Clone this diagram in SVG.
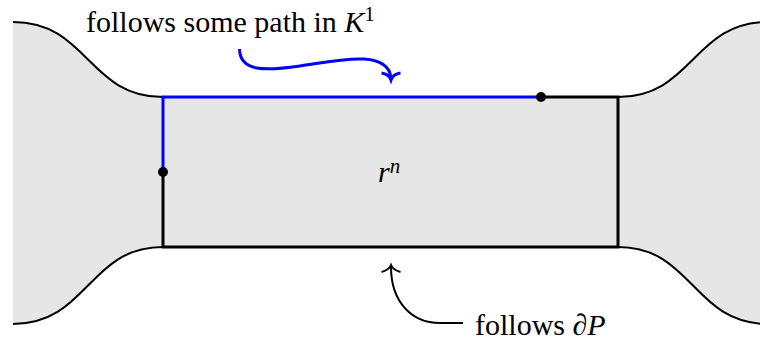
<svg xmlns="http://www.w3.org/2000/svg" width="760" height="344" viewBox="0 0 760 344">
<style>
.lbl{font-family:"Liberation Serif","Times New Roman",serif;font-size:30px;fill:#000}
.it{font-style:italic}
.edge{fill:none;stroke:#000;stroke-width:2}
.rect{fill:none;stroke:#000;stroke-width:3}
.blue{fill:none;stroke:#0000ff;stroke-width:3}
</style>
<rect width="760" height="344" fill="#fff"/>
<g id="region">
<path d="M13,22 C88,22 88,97 163,97 L618,97 C693,97 693,22 768,22 L768,324 C693,324 693,247 618,247 L163,247 C88,247 88,324 13,324 Z" fill="#e6e6e6"/>
<path class="edge" d="M13,22 C88,22 88,97 163,97"/>
<path class="edge" d="M13,324 C88,324 88,247 163,247"/>
<path class="edge" d="M618,97 C693,97 693,22 768,22"/>
<path class="edge" d="M618,247 C693,247 693,324 768,324"/>
</g>
<g id="cell">
<path class="rect" d="M541,97 L618,97 L618,247 L163,247 L163,172"/>
<path class="blue" d="M163,172 L163,97 L541,97"/>
<circle cx="541" cy="97" r="5" fill="#000"/>
<circle cx="163" cy="172" r="5" fill="#000"/>
<text class="lbl" x="378" y="182"><tspan class="it">r</tspan><tspan class="it" font-size="21" dy="-9">n</tspan></text>
</g>
<g id="connectors">
<path class="blue" stroke-width="2.5" d="M239.5,49 C240,72 265,71 300,66 S388,48 391,78"/>
<path class="blue" stroke-width="2.5" d="M381.5,73 Q389,74 391,80 Q393,74 400.5,73"/>
<path fill="none" stroke="#000" stroke-width="2" d="M463,323 L440,323 C410,323 391,300 391,267"/>
<path fill="none" stroke="#000" stroke-width="2" d="M381.5,272 Q389,270 391,265 Q393,270 400.5,272"/>
</g>
<g id="labels">
<text class="lbl" x="86" y="32">follows some path in <tspan class="it">K</tspan><tspan font-size="21" dy="-11">1</tspan></text>
<text class="lbl" x="475" y="335">follows ∂<tspan class="it">P</tspan></text>
</g>
</svg>
